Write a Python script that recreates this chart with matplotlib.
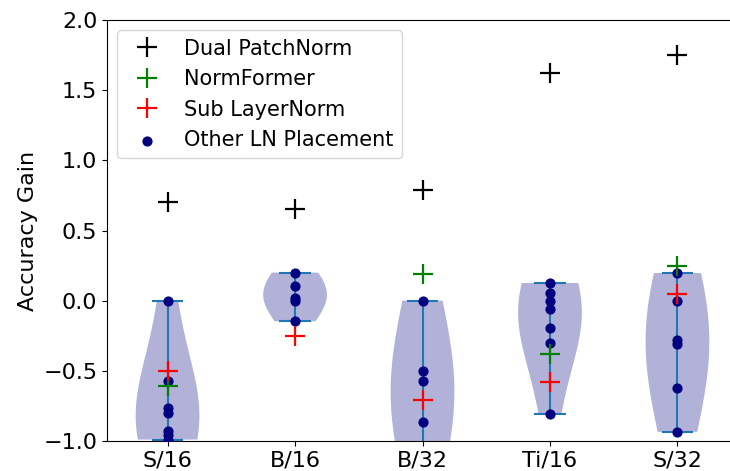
import matplotlib
matplotlib.use("Agg")
import matplotlib.pyplot as plt
import numpy as np

models = ["S/16", "B/16", "B/32", "Ti/16", "S/32"]
other_ln = [
    [0.0, -0.57, -0.765, -0.80, -0.93, -0.955, -0.99],
    [0.20, 0.107, 0.02, 0.0, -0.147],
    [0.0, -0.50, -0.575, -0.865, -1.15],
    [0.126, 0.055, -0.005, -0.06, -0.195, -0.30, -0.81],
    [0.197, 0.0, -0.28, -0.31, -0.62, -0.935],
]
dual_patchnorm = [0.70, 0.65, 0.79, 1.62, 1.75]
normformer = [-0.61, None, 0.19, -0.38, 0.25]
sub_layernorm = [-0.50, -0.25, -0.71, -0.58, 0.05]
yticks = [-1.0, -0.5, 0.0, 0.5, 1.0, 1.5, 2.0]

fig = plt.figure(figsize=(7.3, 4.71), dpi=100)
ax = fig.add_axes([107 / 730, 30 / 471, 631 / 730, 421 / 471])

pos = np.arange(1, len(models) + 1)
vp = ax.violinplot(other_ln, positions=pos, bw_method=1.2)
for b in vp["bodies"]:
    b.set_facecolor("navy")
    b.set_edgecolor("none")
    b.set_alpha(0.3)

for i, vals in enumerate(other_ln):
    ax.scatter([pos[i]] * len(vals), vals, color="navy", s=40, zorder=3,
               label="Other LN Placement" if i == 0 else None)

ax.plot(pos, dual_patchnorm, "+", color="black", markersize=15, mew=1.6,
        linestyle="none", label="Dual PatchNorm", zorder=4)
nf_x = [p for p, v in zip(pos, normformer) if v is not None]
nf_y = [v for v in normformer if v is not None]
ax.plot(nf_x, nf_y, "+", color="green", markersize=15, mew=1.6,
        linestyle="none", label="NormFormer", zorder=4)
ax.plot(pos, sub_layernorm, "+", color="red", markersize=15, mew=1.6,
        linestyle="none", label="Sub LayerNorm", zorder=4)

ax.set_ylim(-1.0, 2.0)
ax.set_xlim(0.525, 5.475)
ax.set_yticks(yticks)
ax.set_xticks(pos)
ax.set_xticklabels(models)
ax.tick_params(labelsize=16)
ax.set_ylabel("Accuracy Gain", fontsize=16)

handles, labels = ax.get_legend_handles_labels()
order = ["Dual PatchNorm", "NormFormer", "Sub LayerNorm", "Other LN Placement"]
hmap = dict(zip(labels, handles))
ax.legend([hmap[k] for k in order], order, loc="upper left", fontsize=15)

fig.savefig("out.png", dpi=100)
